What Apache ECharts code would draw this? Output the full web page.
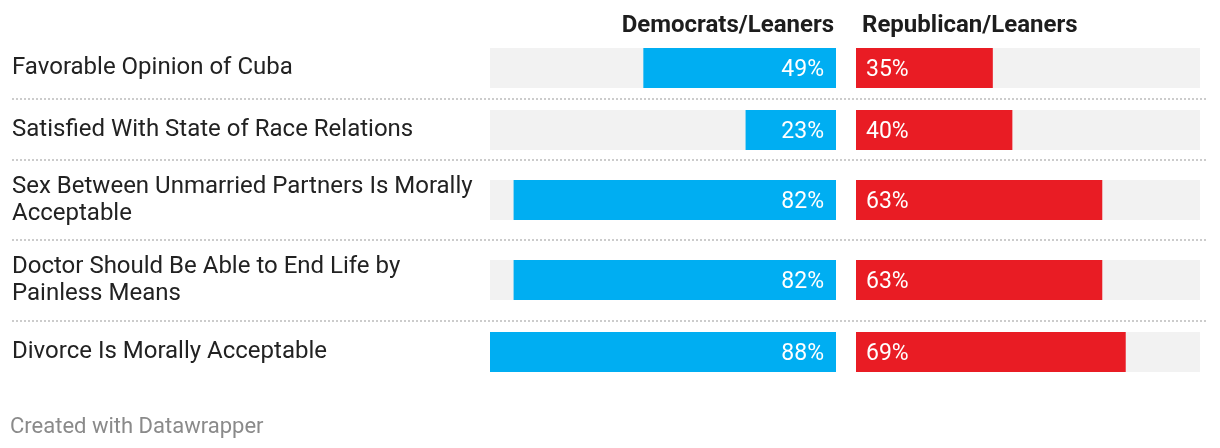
<!DOCTYPE html>
<html>
<head>
<meta charset="utf-8">
<script src="https://cdn.jsdelivr.net/npm/echarts@6/dist/echarts.min.js"></script>
<style>
html,body{margin:0;padding:0;background:#fff;}
#chart{width:1220px;height:448px;}
</style>
</head>
<body>
<div id="chart"></div>
<script>
const categories = [
  "Favorable Opinion of Cuba",
  "Satisfied With State of Race Relations",
  "Sex Between Unmarried Partners Is Morally Acceptable",
  "Doctor Should Be Able to End Life by Painless Means",
  "Divorce Is Morally Acceptable"
];
const demValues = [49, 23, 82, 82, 88];
const repValues = [35, 40, 63, 63, 69];
const seriesNames = ["Democrats/Leaners", "Republican/Leaners"];
const scaleMax = 88;

// layout (pixels)
const rowTops = [48, 110, 180, 260, 332];
const separators = [99, 160, 240, 321];
const barH = 40;
const demLeft = 490, demWidth = 346;
const repLeft = 856, repWidth = 344;
const FONT = 'Roboto, "Noto Sans", sans-serif';

const grid = [], xAxis = [], yAxis = [], series = [];
categories.forEach((cat, i) => {
  // Democrats grid
  grid.push({left: demLeft, top: rowTops[i], width: demWidth, height: barH});
  xAxis.push({type: 'value', gridIndex: 2*i, min: 0, max: scaleMax, inverse: true, show: false});
  yAxis.push({
    type: 'category', gridIndex: 2*i, data: [cat], position: 'left',
    axisLine: {show: false, onZero: false}, axisTick: {show: false},
    axisLabel: {
      show: true, align: 'left', margin: demLeft - 12, width: 470, overflow: 'break',
      fontFamily: FONT, fontSize: 24, color: '#222', lineHeight: 27, padding: [3, 0, 0, 0]
    }
  });
  series.push({
    type: 'bar', name: seriesNames[0], xAxisIndex: 2*i, yAxisIndex: 2*i,
    data: [demValues[i]], barWidth: barH, silent: true,
    itemStyle: {color: '#00aef2'},
    showBackground: true, backgroundStyle: {color: '#f2f2f2'},
    label: {show: true, position: 'insideRight', distance: 12, offset: [0, 2], formatter: '{c}%',
      color: '#fff', fontFamily: FONT, fontSize: 23}
  });
  // Republicans grid
  grid.push({left: repLeft, top: rowTops[i], width: repWidth, height: barH});
  xAxis.push({type: 'value', gridIndex: 2*i+1, min: 0, max: scaleMax, show: false});
  yAxis.push({type: 'category', gridIndex: 2*i+1, data: [cat], show: false});
  series.push({
    type: 'bar', name: seriesNames[1], xAxisIndex: 2*i+1, yAxisIndex: 2*i+1,
    data: [repValues[i]], barWidth: barH, silent: true,
    itemStyle: {color: '#e91c24'},
    showBackground: true, backgroundStyle: {color: '#f2f2f2'},
    label: {show: true, position: 'insideLeft', distance: 10, offset: [0, 2], formatter: '{c}%',
      color: '#fff', fontFamily: FONT, fontSize: 23}
  });
});

const graphic = separators.map(y => ({
  type: 'line', silent: true,
  shape: {x1: 12, y1: y, x2: 1208, y2: y},
  style: {stroke: '#cccccc', lineWidth: 2, lineDash: [2, 2]}
}));

const chart = echarts.init(document.getElementById('chart'));
chart.setOption({
  animation: false,
  backgroundColor: '#fff',
  title: [
    {text: seriesNames[0], right: 1220 - 834 - 5, top: 9,
      textStyle: {fontFamily: FONT, fontSize: 24, fontWeight: 'bold', color: '#1d1d1d'}},
    {text: seriesNames[1], left: 857, top: 9,
      textStyle: {fontFamily: FONT, fontSize: 24, fontWeight: 'bold', color: '#1d1d1d'}},
    {text: 'Created with Datawrapper', left: 5, top: 411,
      textStyle: {fontFamily: FONT, fontSize: 22, fontWeight: 'normal', color: '#8a8a8a'}}
  ],
  grid, xAxis, yAxis, series, graphic
});
</script>
</body>
</html>
